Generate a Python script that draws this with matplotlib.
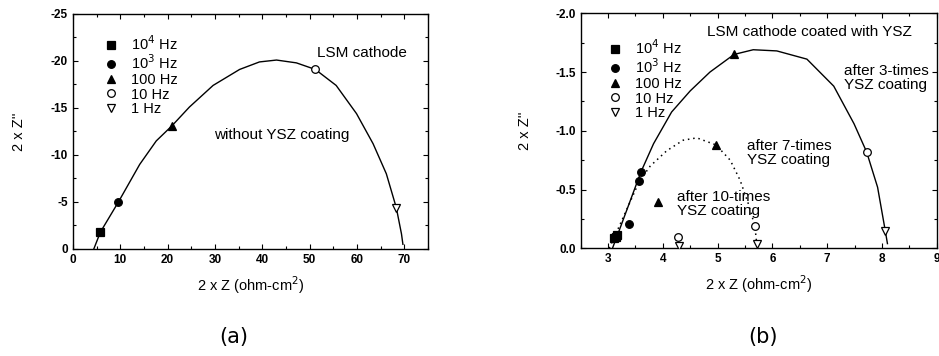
import matplotlib
matplotlib.use("Agg")
import matplotlib.pyplot as plt
from matplotlib.ticker import MultipleLocator, FormatStrFormatter

plt.rcParams['font.family'] = ['Liberation Sans', 'DejaVu Sans']
plt.rcParams['axes.unicode_minus'] = False

# legend labels / markers
freq_labels = ['10$^4$ Hz', '10$^3$ Hz', '100 Hz', '10 Hz', '1 Hz']
freq_markers = ['s', 'o', '^', 'o', 'v']
freq_filled = [True, True, True, False, False]

# (a) LSM cathode without YSZ coating
a_pts_x = [5.8, 9.6, 20.9, 51.2, 68.3]
a_pts_y = [-1.8, -5.0, -13.1, -19.1, -4.4]
a_curve_x = [4.4, 5.8, 9.6, 14.1, 17.6, 20.9, 24.6, 29.6, 35.2, 39.4, 43.0,
             47.2, 51.2, 55.6, 59.9, 63.4, 66.2, 68.3, 69.4, 69.7]
a_curve_y = [0.0, -1.8, -5.0, -9.0, -11.5, -13.1, -15.1, -17.4, -19.1, -19.9,
             -20.1, -19.8, -19.1, -17.4, -14.4, -11.2, -8.0, -4.4, -1.6, -0.5]

# (b) LSM cathode coated with YSZ
b3_pts_x = [3.17, 3.60, 5.30, 7.72, 8.06]
b3_pts_y = [-0.11, -0.65, -1.65, -0.82, -0.15]
b3_curve_x = [3.08, 3.17, 3.60, 3.83, 4.16, 4.50, 4.86, 5.30, 5.65, 6.08,
              6.63, 7.12, 7.49, 7.72, 7.92, 8.06, 8.10]
b3_curve_y = [0.0, -0.11, -0.65, -0.89, -1.16, -1.34, -1.50, -1.65, -1.69,
              -1.68, -1.61, -1.38, -1.06, -0.82, -0.52, -0.15, -0.04]

b7_pts_x = [3.11, 3.57, 4.97, 5.68, 5.72]
b7_pts_y = [-0.09, -0.57, -0.88, -0.19, -0.04]
b7_curve_x = [3.02, 3.11, 3.57, 3.77, 4.07, 4.37, 4.62, 4.97, 5.23, 5.41,
              5.56, 5.68, 5.72]
b7_curve_y = [0.0, -0.09, -0.57, -0.70, -0.83, -0.92, -0.94, -0.88, -0.75,
              -0.58, -0.38, -0.19, -0.01]

b10_pts_x = [3.14, 3.38, 3.92, 4.27, 4.29]
b10_pts_y = [-0.10, -0.21, -0.39, -0.10, -0.02]


def draw_points(ax, xs, ys, ms=5.5, label=True):
    for i in range(len(xs)):
        face = 'black' if freq_filled[i] else 'white'
        ax.plot(xs[i], ys[i], linestyle='none', marker=freq_markers[i],
                markersize=ms, markerfacecolor=face, markeredgecolor='black',
                markeredgewidth=0.9, label=freq_labels[i] if label else None,
                zorder=3)


def style_axes(ax, leg_x, leg_y):
    ax.tick_params(which='both', direction='in', top=True, right=True,
                   labelsize=8.5, width=0.8)
    ax.tick_params(which='major', length=3.5)
    ax.tick_params(which='minor', length=2)
    for lab in ax.get_xticklabels() + ax.get_yticklabels():
        lab.set_fontweight('bold')
    for sp in ax.spines.values():
        sp.set_linewidth(1.0)
    ax.legend(loc='upper left', bbox_to_anchor=(leg_x, leg_y), frameon=False,
              fontsize=10.5, handletextpad=0.9, labelspacing=0.05,
              handlelength=1.0, borderpad=0, borderaxespad=0)


fig = plt.figure(figsize=(9.39, 3.56), dpi=100)

# panel (a)
ax1 = fig.add_axes([0.0777, 0.3006, 0.3781, 0.6601])
ax1.plot(a_curve_x, a_curve_y, color='black', linewidth=1.0, zorder=2)
draw_points(ax1, a_pts_x, a_pts_y)
ax1.set_xlim(0, 75)
ax1.set_ylim(0, -25)
ax1.xaxis.set_major_locator(MultipleLocator(10))
ax1.xaxis.set_minor_locator(MultipleLocator(5))
ax1.yaxis.set_major_locator(MultipleLocator(5))
ax1.yaxis.set_minor_locator(MultipleLocator(2.5))
ax1.set_xlabel('2 x Z (ohm-cm$^2$)', fontsize=10.5, labelpad=6)
ax1.set_ylabel("2 x Z''", fontsize=10.5, labelpad=18)
ax1.text(61, -20.8, 'LSM cathode', fontsize=11, ha='center', va='center')
ax1.text(44, -12.1, 'without YSZ coating', fontsize=11, ha='center', va='center')
style_axes(ax1, 0.086, 0.915)

# panel (b)
ax2 = fig.add_axes([0.6184, 0.3025, 0.3792, 0.6601])
ax2.plot(b3_curve_x, b3_curve_y, color='black', linewidth=1.0, zorder=2)
ax2.plot(b7_curve_x, b7_curve_y, color='black', linewidth=1.1,
         linestyle=(0, (1, 2.5)), zorder=2)
draw_points(ax2, b3_pts_x, b3_pts_y)
draw_points(ax2, b7_pts_x, b7_pts_y, label=False)
draw_points(ax2, b10_pts_x, b10_pts_y, label=False)
ax2.set_xlim(2.5, 9)
ax2.set_ylim(0, -2.0)
ax2.xaxis.set_major_locator(MultipleLocator(1))
ax2.xaxis.set_minor_locator(MultipleLocator(0.5))
ax2.yaxis.set_major_locator(MultipleLocator(0.5))
ax2.yaxis.set_minor_locator(MultipleLocator(0.25))
ax2.yaxis.set_major_formatter(FormatStrFormatter('%.1f'))
ax2.set_xlabel('2 x Z (ohm-cm$^2$)', fontsize=10.5, labelpad=6)
ax2.set_ylabel("2 x Z''", fontsize=10.5, labelpad=17)
ax2.text(6.67, -1.84, 'LSM cathode coated with YSZ', fontsize=11,
         ha='center', va='center')
ax2.text(7.30, -1.45, 'after 3-times\nYSZ coating', fontsize=11,
         ha='left', va='center', linespacing=1.0)
ax2.text(5.54, -0.81, 'after 7-times\nYSZ coating', fontsize=11,
         ha='left', va='center', linespacing=1.0)
ax2.text(4.25, -0.38, 'after 10-times\nYSZ coating', fontsize=11,
         ha='left', va='center', linespacing=1.0)
style_axes(ax2, 0.0756, 0.895)

fig.text(234 / 939, 1 - 337 / 356, '(a)', fontsize=15, family='DejaVu Sans',
         ha='center', va='center')
fig.text(763 / 939, 1 - 337 / 356, '(b)', fontsize=15, family='DejaVu Sans',
         ha='center', va='center')

fig.savefig('out.png', dpi=100)
